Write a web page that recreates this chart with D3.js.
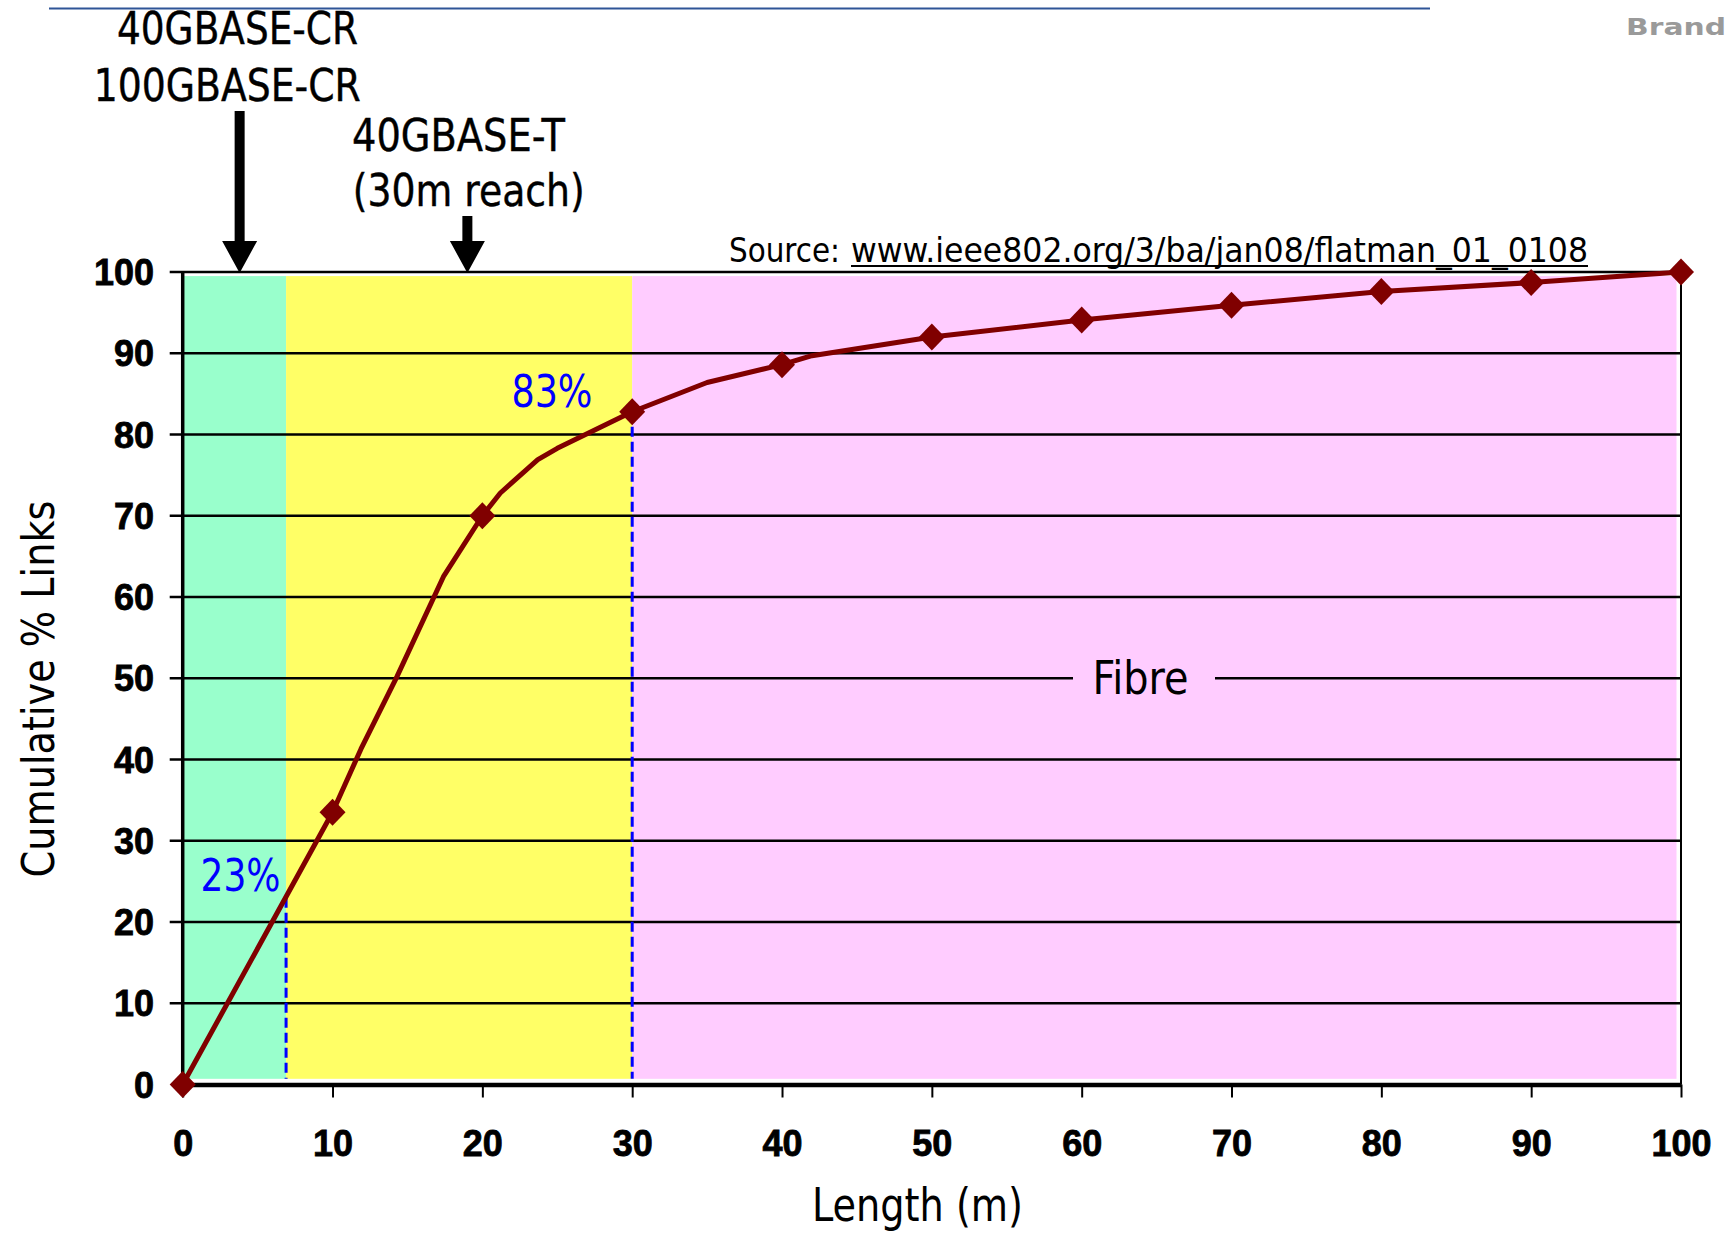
<!DOCTYPE html>
<html>
<head>
<meta charset="utf-8">
<script src="https://cdn.jsdelivr.net/npm/d3@7"></script>
<style>
  html, body { margin: 0; padding: 0; background: #ffffff; }
  svg { display: block; }
</style>
</head>
<body>
<div id="chart"></div>
<script>
// ---------------- data ----------------
const lengthM  = [0, 10, 11.9, 14.3, 17.4, 20, 21.2, 23.7, 25, 30, 35, 40, 42, 50, 60, 70, 80, 90, 100];
const cumPct   = [0, 33.5, 41.3, 50.2, 62.5, 70, 72.8, 76.9, 78.3, 82.8, 86.4, 88.6, 89.7, 92.0, 94.1, 95.9, 97.6, 98.7, 100];
const markerLengths = [0, 10, 20, 30, 40, 50, 60, 70, 80, 90, 100];
const xTicks = [0, 10, 20, 30, 40, 50, 60, 70, 80, 90, 100];
const yTicks = [0, 10, 20, 30, 40, 50, 60, 70, 80, 90, 100];
const bandNames  = ["copper", "40GBASE-T", "Fibre"];
const bandStart  = [0, 6.9, 30];
const bandEnd    = [6.9, 30, 99.7];
const bandColors = ["#99ffcc", "#ffff66", "#ffccff"];
const cutLengths = [6.9, 30];
const cutPct     = [23, 82.8];
const cutLabels  = ["23%", "83%"];
const arrowLengths = [3.8, 19];

// ---------------- layout ----------------
const W = 1725, H = 1234;
const svg = d3.select("#chart").append("svg").attr("width", W).attr("height", H);

const x = d3.scaleLinear().domain([0, 100]).range([182.7, 1681]);
const y = d3.scaleLinear().domain([0, 100]).range([1084.5, 272]);

const condFont = "'DejaVu Sans Condensed', 'DejaVu Sans', Roboto, sans-serif";
const boldFont = "'Liberation Sans', Arial, sans-serif";

// top slide rule
svg.append("line").attr("x1", 49).attr("x2", 1430).attr("y1", 8.5).attr("y2", 8.5)
  .attr("stroke", "#2f5597").attr("stroke-width", 2);

// faint logo text top-right
svg.append("text").attr("x", 1626).attr("y", 35)
  .attr("font-family", "'DejaVu Sans', sans-serif").attr("font-weight", "bold")
  .attr("font-size", 23).attr("fill", "#9a9a9a")
  .attr("textLength", 100).attr("lengthAdjust", "spacingAndGlyphs")
  .text("Brand");

// bands
svg.append("g").selectAll("rect").data(bandNames).join("rect")
  .attr("x", (d, i) => x(bandStart[i]))
  .attr("width", (d, i) => x(bandEnd[i]) - x(bandStart[i]))
  .attr("y", y(99.5))
  .attr("height", y(0.7) - y(99.5))
  .attr("fill", (d, i) => bandColors[i]);

// gridlines (extend left as tick marks)
svg.append("g").selectAll("line").data(yTicks.filter(d => d > 0)).join("line")
  .attr("x1", x(0) - 13).attr("x2", x(100))
  .attr("y1", d => y(d)).attr("y2", d => y(d))
  .attr("stroke", "#000").attr("stroke-width", 2.5);

// y axis labels
svg.append("g").selectAll("text").data(yTicks).join("text")
  .attr("x", 154).attr("y", d => y(d) + 13)
  .attr("text-anchor", "end")
  .attr("font-family", boldFont).attr("font-weight", "bold").attr("font-size", 36)
  .attr("fill", "#000").attr("stroke", "#000").attr("stroke-width", 0.8)
  .text(d => d);

// left axis line
svg.append("line").attr("x1", x(0)).attr("x2", x(0)).attr("y1", y(100)).attr("y2", y(0))
  .attr("stroke", "#000").attr("stroke-width", 3.5);
// right border
svg.append("line").attr("x1", x(100)).attr("x2", x(100)).attr("y1", y(100)).attr("y2", y(0))
  .attr("stroke", "#000").attr("stroke-width", 2);

// x axis
const xAxis = d3.axisBottom(x).tickValues(xTicks).tickSize(13).tickSizeOuter(0).tickFormat(d => d);
const gx = svg.append("g").attr("transform", `translate(0,${y(0)})`).call(xAxis);
gx.select(".domain").attr("stroke", "#000").attr("stroke-width", 4.5);
gx.selectAll(".tick line").attr("stroke", "#000").attr("stroke-width", 2);
gx.selectAll(".tick text")
  .attr("y", 0).attr("dy", null)
  .attr("transform", `translate(0,${1156 - y(0)})`)
  .attr("font-family", boldFont).attr("font-weight", "bold").attr("font-size", 36)
  .attr("fill", "#000").attr("stroke", "#000").attr("stroke-width", 0.8);

// Fibre label with background gap
const fibreY = y(50);
svg.append("rect").attr("x", 1073).attr("width", 142).attr("y", fibreY - 6).attr("height", 12)
  .attr("fill", bandColors[2]);
svg.append("text").attr("x", 1140.5).attr("y", 694)
  .attr("text-anchor", "middle")
  .attr("font-family", condFont).attr("font-size", 46).attr("fill", "#000")
  .attr("textLength", 96).attr("lengthAdjust", "spacingAndGlyphs")
  .text("Fibre");

// dashed cut lines
svg.append("g").selectAll("line").data(cutLengths).join("line")
  .attr("x1", d => x(d)).attr("x2", d => x(d))
  .attr("y1", (d, i) => y(cutPct[i])).attr("y2", y(0.7))
  .attr("stroke", "#0000ff").attr("stroke-width", 3)
  .attr("stroke-dasharray", "10,5");

// curve
const pts = lengthM.map((d, i) => [x(d), y(cumPct[i])]);
svg.append("path").attr("d", d3.line()(pts))
  .attr("fill", "none").attr("stroke", "#800000").attr("stroke-width", 5)
  .attr("stroke-linejoin", "round");

// markers
const markerData = markerLengths.map(m => [m, cumPct[lengthM.indexOf(m)]]);
svg.append("g").selectAll("path").data(markerData).join("path")
  .attr("transform", d => `translate(${x(d[0])},${y(d[1])})`)
  .attr("d", "M0,-13.5L13,0L0,13.5L-13,0Z")
  .attr("fill", "#800000");

// cut labels
svg.append("text").attr("x", 552).attr("y", 406.5).attr("text-anchor", "middle")
  .attr("font-family", condFont).attr("font-size", 45).attr("fill", "#0000ff")
  .attr("textLength", 81).attr("lengthAdjust", "spacingAndGlyphs")
  .text(cutLabels[1]);
svg.append("text").attr("x", 240.5).attr("y", 891).attr("text-anchor", "middle")
  .attr("font-family", condFont).attr("font-size", 45).attr("fill", "#0000ff")
  .attr("textLength", 80).attr("lengthAdjust", "spacingAndGlyphs")
  .text(cutLabels[0]);

// arrows
function arrowPath(cx, top, headTop, tip) {
  const sw = 5, hw = 17.5;
  return `M${cx - sw},${top}L${cx + sw},${top}L${cx + sw},${headTop}L${cx + hw},${headTop}` +
         `L${cx},${tip}L${cx - hw},${headTop}L${cx - sw},${headTop}Z`;
}
svg.append("path").attr("d", arrowPath(x(arrowLengths[0]), 111, 241, y(100) + 1)).attr("fill", "#000");
svg.append("path").attr("d", arrowPath(x(arrowLengths[1]), 216, 241, y(100) + 1)).attr("fill", "#000");

// annotation texts
function label(txt, cx, by, len, size) {
  svg.append("text").attr("x", cx).attr("y", by).attr("text-anchor", "middle")
    .attr("font-family", condFont).attr("font-size", size).attr("fill", "#000")
    .attr("stroke", "#000").attr("stroke-width", 0.4)
    .attr("textLength", len).attr("lengthAdjust", "spacingAndGlyphs")
    .text(txt);
}
label("40GBASE-CR", 237.5, 44, 241, 45);
label("100GBASE-CR", 227.3, 100.7, 267, 45);
label("40GBASE-T", 458.5, 150.7, 213, 45);
label("(30m reach)", 468.8, 205.5, 232, 45);

// source
svg.append("text").attr("x", 729).attr("y", 261.5)
  .attr("font-family", condFont).attr("font-size", 34).attr("fill", "#000")
  .attr("textLength", 111).attr("lengthAdjust", "spacingAndGlyphs")
  .text("Source:");
svg.append("text").attr("x", 851).attr("y", 261.5)
  .attr("font-family", condFont).attr("font-size", 34).attr("fill", "#000")
  .attr("textLength", 737).attr("lengthAdjust", "spacingAndGlyphs")
  .text("www.ieee802.org/3/ba/jan08/flatman_01_0108");
svg.append("line").attr("x1", 851).attr("x2", 1588).attr("y1", 266).attr("y2", 266)
  .attr("stroke", "#000").attr("stroke-width", 2);

// axis titles
svg.append("text").attr("transform", "translate(54,689) rotate(-90)")
  .attr("text-anchor", "middle")
  .attr("font-family", condFont).attr("font-size", 44).attr("fill", "#000")
  .attr("textLength", 377).attr("lengthAdjust", "spacingAndGlyphs")
  .text("Cumulative % Links");
svg.append("text").attr("x", 917.5).attr("y", 1221)
  .attr("text-anchor", "middle")
  .attr("font-family", condFont).attr("font-size", 46).attr("fill", "#000")
  .attr("textLength", 211).attr("lengthAdjust", "spacingAndGlyphs")
  .text("Length (m)");
</script>
</body>
</html>
